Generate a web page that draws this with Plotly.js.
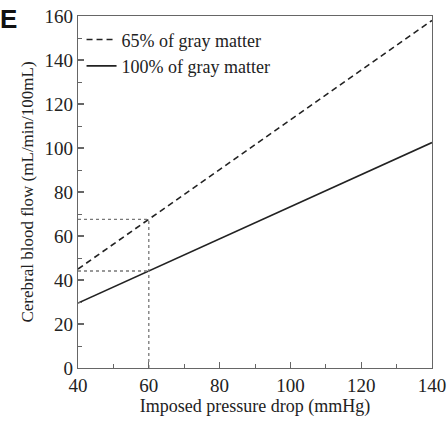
<!DOCTYPE html>
<html><head><meta charset="utf-8">
<script src="https://cdn.plot.ly/plotly-3.0.1.min.js"></script>
<style>body{margin:0;padding:0;background:#fff}#c{width:448px;height:421px}</style>
</head><body><div id="c"></div>
<script>
const pressure = [40, 140];
const flow65 = [45, 158];
const flow100 = [29.5, 102.5];
const markX = 60;
const mark65 = 67.6;
const mark100 = 44.1;
const xTicks = [40, 60, 80, 100, 120, 140];
const yTicks = [0, 20, 40, 60, 80, 100, 120, 140, 160];

const font = 'Liberation Serif, Times New Roman, serif';
const traces = [
  {x: pressure, y: flow65, mode: 'lines', name: '65% of gray matter', line: {color: '#222', width: 1.6, dash: '6px,4px'}},
  {x: pressure, y: flow100, mode: 'lines', name: '100% of gray matter', line: {color: '#222', width: 1.6}},
  {x: [markX, markX], y: [0, mark65], mode: 'lines', showlegend: false, line: {color: '#777', width: 1.3, dash: 'dot'}},
  {x: [pressure[0], markX], y: [mark65, mark65], mode: 'lines', showlegend: false, line: {color: '#777', width: 1.3, dash: 'dot'}},
  {x: [pressure[0], markX], y: [mark100, mark100], mode: 'lines', showlegend: false, line: {color: '#777', width: 1.3, dash: 'dot'}}
];
const axisCommon = {
  showgrid: false, zeroline: false, showline: true, mirror: true,
  linecolor: '#666', linewidth: 1.2,
  ticks: 'inside', ticklen: 6, tickcolor: '#666', tickwidth: 1.2,
  tickfont: {family: font, size: 19, color: '#222'},
  minor: {ticks: 'inside', ticklen: 4, tickcolor: '#666', tickwidth: 1, dtick: 10}
};
const layout = {
  width: 448, height: 421,
  margin: {l: 78, r: 16, t: 16, b: 53},
  paper_bgcolor: '#fff', plot_bgcolor: '#fff',
  showlegend: true,
  legend: {x: 0.01, y: 0.985, xanchor: 'left', yanchor: 'top', font: {family: font, size: 18, color: '#222'}, bgcolor: 'rgba(0,0,0,0)', tracegroupgap: 0, itemwidth: 30},
  xaxis: Object.assign({}, axisCommon, {range: [40, 140], tickvals: xTicks, ticktext: xTicks.map(String),
    title: {text: 'Imposed pressure drop (mmHg)', font: {family: font, size: 18, color: '#222'}, standoff: 2}}),
  yaxis: Object.assign({}, axisCommon, {range: [0, 160], tickvals: yTicks, ticktext: yTicks.map(String),
    title: {text: 'Cerebral blood flow (mL/min/100mL)', font: {family: font, size: 17, color: '#222'}, standoff: 6}}),
  annotations: [{text: '<b>E</b>', xref: 'paper', yref: 'paper', x: -0.225, y: 1.04, xanchor: 'left', yanchor: 'top', showarrow: false, font: {family: 'Liberation Sans, Arial, sans-serif', size: 26, color: '#111'}}]
};
Plotly.newPlot('c', traces, layout, {staticPlot: true});
</script></body></html>
